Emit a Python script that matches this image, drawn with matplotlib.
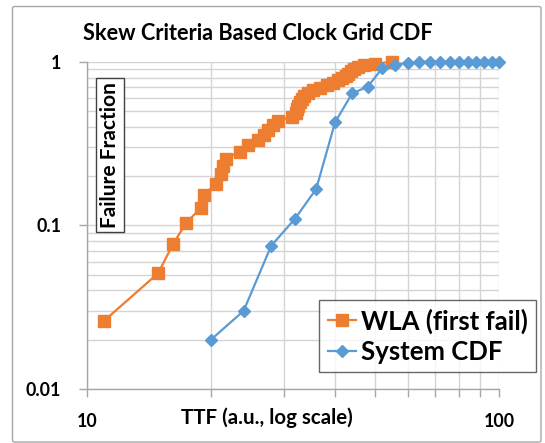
import matplotlib
matplotlib.use('Agg')
import matplotlib.pyplot as plt
from matplotlib.patches import FancyBboxPatch
from matplotlib.ticker import LogLocator, FixedLocator, NullFormatter, FixedFormatter

# ---------------- data ----------------
wla_ttf = [11.0, 14.9, 16.2, 17.4, 18.9, 19.2, 20.6, 21.2, 21.4, 21.8,
           23.5, 24.6, 26.0, 26.9, 27.5, 28.3, 29.1, 31.5, 32.2, 32.3,
           32.5, 32.9, 33.2, 33.6, 34.4, 35.4, 36.8, 38.2, 39.5, 40.6,
           41.6, 42.5, 43.0, 43.7, 44.4, 45.5, 47.0, 50.0, 55.0]
wla_frac = [0.026, 0.051, 0.077, 0.103, 0.128, 0.154, 0.179, 0.205, 0.231, 0.256,
            0.282, 0.308, 0.333, 0.359, 0.385, 0.410, 0.436, 0.462, 0.487, 0.513,
            0.538, 0.564, 0.590, 0.615, 0.641, 0.667, 0.692, 0.718, 0.744, 0.769,
            0.795, 0.821, 0.846, 0.872, 0.897, 0.923, 0.949, 0.974, 1.000]

sys_ttf = [20, 24, 28, 32, 36, 40, 44, 48, 52, 56, 60,
           64, 68, 72, 76, 80, 84, 88, 92, 96, 100]
sys_frac = [0.020, 0.030, 0.075, 0.110, 0.167, 0.427, 0.640, 0.704, 0.910, 0.958, 0.985,
            1.0, 1.0, 1.0, 1.0, 1.0, 1.0, 1.0, 1.0, 1.0, 1.0]

title = "Skew Criteria Based Clock Grid CDF"
x_label = "TTF (a.u., log scale)"
y_label = "Failure Fraction"
series_names = ["WLA (first fail)", "System CDF"]
x_ticks = [10, 100]
x_ticklabels = ["10", "100"]
y_ticks = [0.01, 0.1, 1]
y_ticklabels = ["0.01", "0.1", "1"]

# ---------------- style ----------------
ORANGE = '#ED7D31'
BLUE = '#5B9BD5'
GRID = '#d4d4d4'
FONT = 'Lato'

W, H = 545, 443
fig = plt.figure(figsize=(W / 100, H / 100), dpi=100)
fig.patch.set_facecolor('white')

# outer chart border
fig.patches.append(FancyBboxPatch((12.5 / W, 1 - 442 / H), (541 - 12.5) / W, (442 - 6.5) / H,
                                  boxstyle='round,pad=0,rounding_size=0.004',
                                  transform=fig.transFigure, fill=False,
                                  edgecolor='#a6a6a6', linewidth=1.0, zorder=0))

left, right, top, bottom = 86.7, 499.3, 61.7, 389.0
ax = fig.add_axes([left / W, 1 - bottom / H, (right - left) / W, (bottom - top) / H])
ax.set_xscale('log')
ax.set_yscale('log')
ax.set_xlim(10, 100)
ax.set_ylim(0.01, 1)

ax.plot(wla_ttf, wla_frac, color=ORANGE, lw=1.6, marker='s', ms=9.0,
        mec=ORANGE, mfc=ORANGE, label=series_names[0], zorder=3, clip_on=False)
ax.plot(sys_ttf, sys_frac, color=BLUE, lw=1.6, marker='D', ms=6.2,
        mec=BLUE, mfc=BLUE, label=series_names[1], zorder=4, clip_on=False)

# grid and ticks
ax.xaxis.set_major_locator(FixedLocator(x_ticks))
ax.xaxis.set_major_formatter(FixedFormatter(x_ticklabels))
ax.xaxis.set_minor_locator(LogLocator(base=10, subs=range(2, 10)))
ax.xaxis.set_minor_formatter(NullFormatter())
ax.yaxis.set_major_locator(FixedLocator(y_ticks))
ax.yaxis.set_major_formatter(FixedFormatter(y_ticklabels))
ax.yaxis.set_minor_locator(LogLocator(base=10, subs=range(2, 10)))
ax.yaxis.set_minor_formatter(NullFormatter())
ax.grid(True, which='both', color=GRID, lw=1.0, zorder=0)
ax.set_axisbelow(True)

for s in ['top', 'right']:
    ax.spines[s].set_visible(False)
for s in ['left', 'bottom']:
    ax.spines[s].set_color('#a6a6a6')
    ax.spines[s].set_linewidth(1.0)

ax.tick_params(axis='x', which='both', direction='out', length=6, width=1,
               color='#a6a6a6', pad=11.5)
ax.tick_params(axis='y', which='major', direction='out', length=6, width=1,
               color='#a6a6a6', pad=12.5)
ax.tick_params(axis='y', which='minor', length=0)
for lab in ax.get_xticklabels() + ax.get_yticklabels():
    lab.set_fontfamily(FONT)
    lab.set_fontweight('bold')
    lab.set_fontsize(12.8)
    lab.set_color('black')

# title
fig.text(257.5 / W, 1 - 39.5 / H, title, ha='center', va='baseline',
         fontfamily=FONT, fontweight='bold', fontsize=15.7, color='black')

# x label (inside bottom area, between tick labels)
fig.text(267 / W, 1 - 417.5 / H, x_label, ha='center', va='center',
         fontfamily=FONT, fontweight='bold', fontsize=14.8, color='black')

# y label inside a box
fig.text(110 / W, 1 - 155 / H, y_label, ha='center', va='center', rotation=90,
         fontfamily=FONT, fontweight='bold', fontsize=15, color='black',
         bbox=dict(boxstyle='square,pad=0.2', facecolor='white',
                   edgecolor='#404040', linewidth=1.0), zorder=5)

# legend
leg = fig.legend(loc='center',
                 bbox_to_anchor=((316 + 539.3) / 2 / W, 1 - (300.7 + 371.7) / 2 / H),
                 prop=dict(family=FONT, weight='bold', size=18.5),
                 frameon=True, fancybox=False, handlelength=1.1, handletextpad=0.2,
                 borderpad=0.32, labelspacing=0.25, borderaxespad=0)
leg.get_frame().set_edgecolor('#404040')
leg.get_frame().set_linewidth(1.0)

fig.savefig('out.png', dpi=100, facecolor='white')
